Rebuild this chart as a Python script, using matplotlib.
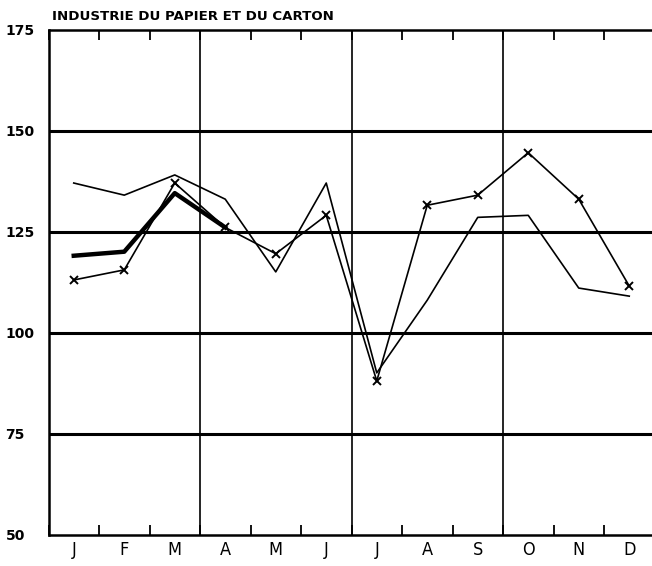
import numpy as np
import matplotlib
matplotlib.use('Agg')
import matplotlib.pyplot as plt

# Monthly index values
months = ['J', 'F', 'M', 'A', 'M', 'J', 'J', 'A', 'S', 'O', 'N', 'D']
serie_fine = [137, 134, 139, 133, 115, 137, 90, 108, 128.5, 129, 111, 109]
serie_croix = [113, 115.5, 137, 126, 119.5, 129, 88, 131.5, 134, 144.5, 133, 111.5]
serie_epaisse = [119, 120, 134.5, 126]
y_ticks = [50, 75, 100, 125, 150, 175]
title = 'INDUSTRIE DU PAPIER ET DU CARTON'

fig = plt.figure(figsize=(6.52, 5.66), dpi=100)
ax = fig.add_axes([48.5 / 652, 31.5 / 566, 606 / 652, 505 / 566])

x = np.arange(len(months)) + 0.5

# horizontal rules and quarter separators
for v in [75, 100, 125, 150]:
    ax.axhline(v, color='black', lw=2.2, zorder=1)
for q in [3, 6, 9]:
    ax.axvline(q, color='black', lw=1.2, zorder=1)

ax.plot(x, serie_fine, color='black', lw=1.2, zorder=3)
ax.plot(x, serie_croix, color='black', lw=1.2, marker='x', ms=5.5, mew=1.4, zorder=3)
ax.plot(x[:len(serie_epaisse)], serie_epaisse, color='black', lw=3.2, zorder=3)

ax.set_xlim(0, 12)
ax.set_ylim(50, 175)

ax.spines['right'].set_visible(False)
for s in ['left', 'top', 'bottom']:
    ax.spines[s].set_linewidth(1.8)

# ticks at month boundaries, labels at month centres
ax.set_xticks(np.arange(13))
ax.set_xticklabels([])
ax.set_xticks(x, minor=True)
ax.set_xticklabels(months, minor=True, fontsize=13, fontstretch='condensed')
ax.tick_params(axis='x', which='major', direction='in', length=7.5, width=1.3,
               top=True, bottom=True)
ax.tick_params(axis='x', which='minor', length=0, pad=5)

ax.set_yticks(y_ticks)
ax.set_yticklabels([str(v) for v in y_ticks], fontsize=10, fontweight='bold')
ax.tick_params(axis='y', length=0, pad=31)
for lab in ax.get_yticklabels():
    lab.set_horizontalalignment('left')

fig.text(52 / 652, 1 - 16 / 566, title, fontsize=9.6, fontweight='bold',
         ha='left', va='center')

fig.savefig('out.png', dpi=100)
